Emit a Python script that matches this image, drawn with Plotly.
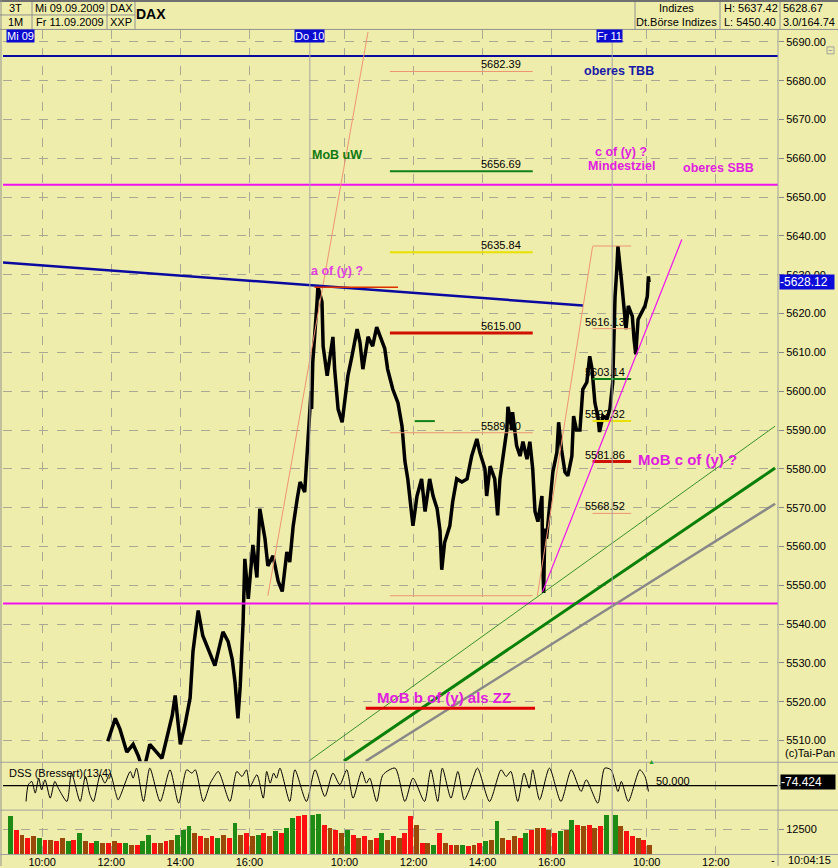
import plotly.graph_objects as go

# ---------------------------------------------------------------- data
# time stamps "DD HH:MM" (09 = Mi 09.09., 10 = Do 10.09., 11 = Fr 11.09.2009)
price_time = [
    "09 11:54", "09 12:07", "09 12:15", "09 12:27", "09 12:38", "09 12:47", "09 12:56", "09 13:07",
    "09 13:28", "09 13:37", "09 13:46", "09 13:51", "09 14:00", "09 14:08", "09 14:17", "09 14:22",
    "09 14:31", "09 14:39", "09 14:46", "09 15:00", "09 15:14", "09 15:23", "09 15:30", "09 15:35",
    "09 15:40", "09 15:44", "09 15:49", "09 15:52", "09 15:58", "09 16:06", "09 16:13", "09 16:18",
    "09 16:27", "09 16:32", "09 16:41", "09 16:50", "09 16:57", "09 17:05", "09 17:10", "09 17:16",
    "09 17:23", "09 17:28", "09 17:36",
    "10 09:02", "10 09:03", "10 09:05", "10 09:12", "10 09:14", "10 09:21", "10 09:23", "10 09:30",
    "10 09:35", "10 09:40", "10 09:43", "10 09:49", "10 09:56", "10 10:01", "10 10:06", "10 10:13",
    "10 10:22", "10 10:27", "10 10:32", "10 10:41", "10 10:49", "10 10:56", "10 11:02", "10 11:10",
    "10 11:15", "10 11:24", "10 11:33", "10 11:40", "10 11:45", "10 11:50", "10 11:57", "10 11:59",
    "10 12:06", "10 12:14", "10 12:20", "10 12:28", "10 12:34", "10 12:41", "10 12:46", "10 12:49",
    "10 12:54", "10 13:03", "10 13:08", "10 13:15", "10 13:24", "10 13:33", "10 13:41", "10 13:50",
    "10 13:55", "10 14:04", "10 14:07", "10 14:13", "10 14:21", "10 14:26", "10 14:30", "10 14:35",
    "10 14:42", "10 14:44", "10 14:51", "10 14:52", "10 14:59", "10 15:05", "10 15:10", "10 15:17",
    "10 15:22", "10 15:27", "10 15:31", "10 15:36", "10 15:43", "10 15:44", "10 15:46", "10 15:48",
    "10 15:51", "10 15:57", "10 16:02", "10 16:09", "10 16:12", "10 16:17", "10 16:23", "10 16:28",
    "10 16:35", "10 16:38", "10 16:43", "10 16:49", "10 16:54", "10 17:01", "10 17:06", "10 17:10",
    "10 17:15", "10 17:20", "10 17:23", "10 17:29", "10 17:36", "10 17:41",
    "11 09:01", "11 09:03", "11 09:05", "11 09:08", "11 09:10", "11 09:16", "11 09:19", "11 09:24",
    "11 09:28", "11 09:35", "11 09:38", "11 09:41", "11 09:45", "11 09:52", "11 09:57", "11 10:01",
    "11 10:03", "11 10:04",
]
price_value = [
    5509.8, 5515.7, 5513.0, 5507.0, 5509.0, 5506.0, 5502.0, 5509.0,
    5505.4, 5510.6, 5516.5, 5521.6, 5509.0, 5514.0, 5521.0, 5533.0,
    5543.5, 5537.0, 5534.5, 5529.3, 5538.0, 5535.5, 5531.0, 5525.0,
    5515.7, 5524.0, 5540.5, 5556.8, 5546.5, 5560.4, 5552.0, 5569.7,
    5562.0, 5555.0, 5557.6, 5551.0, 5548.4, 5558.6, 5556.0, 5565.3,
    5572.3, 5576.6, 5574.0,
    5600.0, 5595.4, 5607.5, 5622.0, 5627.0, 5623.0, 5611.6, 5604.0,
    5609.0, 5614.0, 5605.7, 5595.4, 5592.0, 5598.0, 5604.0, 5609.0,
    5616.0, 5612.6, 5605.7, 5614.0, 5611.6, 5616.5, 5614.0, 5611.0,
    5605.7, 5600.5, 5597.0, 5591.0, 5582.0, 5577.4, 5568.0, 5565.3,
    5573.0, 5577.4, 5569.0, 5577.4, 5573.0, 5569.7, 5564.0, 5554.0,
    5561.0, 5565.3, 5571.5, 5577.4, 5576.6, 5577.4, 5583.3, 5587.7,
    5584.3, 5580.0, 5573.0, 5580.7, 5577.4, 5568.0, 5577.4, 5583.3,
    5590.0, 5596.0, 5590.0, 5594.6, 5586.0, 5583.3, 5587.0, 5582.5,
    5587.0, 5580.0, 5569.0, 5566.4, 5573.0, 5558.6, 5548.0, 5564.6,
    5562.0, 5571.5, 5579.2, 5584.3, 5592.0, 5585.0, 5579.2, 5578.2,
    5583.3, 5593.6, 5590.0, 5590.0, 5600.5, 5602.3, 5609.0, 5605.7,
    5597.0, 5593.6, 5589.5, 5593.6, 5592.8, 5595.4,
    5602.3, 5613.4, 5624.4, 5631.4, 5637.4, 5628.8, 5624.4, 5616.0,
    5622.0, 5619.3, 5613.4, 5609.5, 5618.5, 5620.3, 5622.0, 5624.4,
    5629.6, 5628.1,
]

dss_time = [
    "09 09:32", "09 09:36", "09 09:42", "09 09:48", "09 09:54", "09 09:59", "09 10:05", "09 10:14",
    "09 10:22", "09 10:28", "09 10:43", "09 10:51", "09 11:06", "09 11:15", "09 11:23", "09 11:29",
    "09 11:41", "09 11:49", "09 11:58", "09 12:07", "09 12:12", "09 12:33", "09 12:38", "09 12:44",
    "09 12:56", "09 13:07", "09 13:25", "09 13:42", "09 13:57", "09 14:11", "09 14:20", "09 14:26",
    "09 14:40", "09 14:52", "09 14:57", "09 15:06", "09 15:26", "09 15:38", "09 15:47", "09 15:55",
    "09 16:01", "09 16:13", "09 16:24", "09 16:30", "09 16:36", "09 16:42", "09 16:47", "09 16:53",
    "09 17:10", "09 17:19", "09 17:39",
    "10 09:09", "10 09:26", "10 09:40", "10 09:52", "10 10:04", "10 10:15", "10 10:30", "10 10:38",
    "10 10:44", "10 10:56", "10 11:07", "10 11:28", "10 11:45", "10 11:59", "10 12:19", "10 12:30",
    "10 12:42", "10 12:50", "10 13:05", "10 13:17", "10 13:28", "10 13:37", "10 13:51", "10 14:12",
    "10 14:32", "10 14:41", "10 14:49", "10 15:01", "10 15:12", "10 15:21", "10 15:27", "10 15:39",
    "10 15:56", "10 16:16", "10 16:34", "10 16:51", "10 17:00", "10 17:20", "10 17:32", "10 17:43",
    "11 09:10", "11 09:16", "11 09:28", "11 09:48", "11 09:57", "11 10:03",
]
dss_value = [
    4.8, 52.4, 61.9, 28.6, 71.4, 38.1, 66.7, 14.3,
    61.9, 42.9, 4.8, 85.7, 4.8, 76.2, 23.8, 4.8,
    81.0, 57.1, 85.7, 33.3, 9.5, 90.5, 71.4, 100.0,
    4.8, 100.0, 4.8, 95.2, 0.0, 95.2, 85.7, 95.2,
    4.8, 57.1, 71.4, 90.5, 4.8, 90.5, 76.2, 95.2,
    47.6, 81.0, 14.3, 90.5, 57.1, 85.7, 71.4, 100.0,
    4.8, 95.2, 4.8,
    95.2, 19.0, 85.7, 52.4, 95.2, 14.3, 90.5, 57.1,
    71.4, 4.8, 81.0, 100.0, 4.8, 71.4, 4.8, 95.2,
    4.8, 100.0, 14.3, 90.5, 9.5, 38.1, 100.0, 4.8,
    95.2, 76.2, 90.5, 4.8, 85.7, 42.9, 95.2, 9.5,
    100.0, 4.8, 95.2, 33.3, 66.7, 0.0, 100.0, 95.2,
    33.3, 61.9, 4.8, 95.2, 76.2, 33.3,
]
DSS_MID = 50.0
DSS_LAST = 74.424

vol_time = [
    "09 09:00", "09 09:10", "09 09:20", "09 09:30", "09 09:40", "09 09:50", "09 10:00", "09 10:10",
    "09 10:20", "09 10:30", "09 10:40", "09 10:50", "09 11:00", "09 11:10", "09 11:20", "09 11:30",
    "09 11:40", "09 11:50", "09 12:00", "09 12:10", "09 12:20", "09 12:30", "09 12:40", "09 12:50",
    "09 13:00", "09 13:10", "09 13:20", "09 13:30", "09 13:40", "09 13:50", "09 14:00", "09 14:10",
    "09 14:20", "09 14:30", "09 14:40", "09 14:50", "09 15:00", "09 15:10", "09 15:20", "09 15:30",
    "09 15:40", "09 15:50", "09 16:00", "09 16:10", "09 16:20", "09 16:30", "09 16:40", "09 16:50",
    "09 17:00", "09 17:10", "09 17:20", "09 17:30",
    "10 09:00", "10 09:10", "10 09:20", "10 09:30", "10 09:40", "10 09:50", "10 10:00", "10 10:10",
    "10 10:20", "10 10:30", "10 10:40", "10 10:50", "10 11:00", "10 11:10", "10 11:20", "10 11:30",
    "10 11:40", "10 11:50", "10 12:00", "10 12:10", "10 12:20", "10 12:30", "10 12:40", "10 12:50",
    "10 13:00", "10 13:10", "10 13:20", "10 13:30", "10 13:40", "10 13:50", "10 14:00", "10 14:10",
    "10 14:20", "10 14:30", "10 14:40", "10 14:50", "10 15:00", "10 15:10", "10 15:20", "10 15:30",
    "10 15:40", "10 15:50", "10 16:00", "10 16:10", "10 16:20", "10 16:30", "10 16:40", "10 16:50",
    "10 17:00", "10 17:10", "10 17:20", "10 17:30",
    "11 09:00", "11 09:10", "11 09:20", "11 09:30", "11 09:40", "11 09:50", "11 10:00",
]
vol_value = [
    18800, 12200, 9700, 8000, 8800, 8000, 7200, 7200,
    6300, 8000, 6300, 7200, 10500, 6300, 5500, 6300,
    5500, 5500, 6300, 5500, 5500, 4700, 4700, 6300,
    9700, 5500, 5500, 6300, 7200, 9700, 12200, 13800,
    10500, 8800, 8000, 8800, 8000, 9700, 8000, 15500,
    9700, 10500, 8800, 9700, 10500, 8800, 11300, 10500,
    13000, 18000, 18800, 19300,
    19300, 20000, 14700, 13000, 12200, 10500, 12200, 9700,
    8000, 8800, 7200, 8000, 10500, 7200, 8800, 8000,
    10500, 18800, 14700, 5500, 5500, 4700, 10500, 5500,
    4700, 4300, 4700, 3800, 4700, 5500, 6300, 7200,
    16300, 8000, 7200, 8800, 8000, 10500, 12200, 13000,
    13000, 12200, 10500, 11300, 12200, 17200, 14700, 13800,
    14700, 13000, 13800, 19700,
    19300, 13800, 11300, 8800, 8000, 7200, 4700,
]
vol_color = [
    "g", "r", "b", "r", "b", "g", "r", "b",
    "r", "b", "g", "r", "g", "b", "r", "g",
    "b", "r", "b", "r", "g", "b", "r", "g",
    "g", "r", "b", "r", "b", "g", "g", "g",
    "b", "r", "b", "r", "g", "b", "r", "g",
    "b", "r", "b", "g", "r", "b", "g", "r",
    "g", "g", "r", "r",
    "g", "g", "r", "b", "r", "b", "g", "r",
    "b", "r", "b", "r", "g", "b", "r", "b",
    "r", "r", "b", "r", "b", "g", "r", "b",
    "r", "b", "g", "r", "b", "r", "g", "b",
    "g", "b", "r", "b", "r", "g", "r", "b",
    "r", "b", "r", "g", "b", "g", "r", "b",
    "r", "b", "r", "g",
    "g", "b", "r", "r", "b", "r", "b",
]

# horizontal analysis levels
level_price = [5682.39, 5656.69, 5635.84, 5615.00, 5589.30, 5547.30,
               5637.42, 5616.13, 5603.14, 5592.32, 5581.86, 5568.52]
level_start = ["10 11:19"] * 6 + ["10 17:11"] * 6
level_end = ["10 15:27"] * 6 + ["11 09:33"] * 6
level_kind = ["thin", "green", "yellow", "red", "thin", "thin",
              "thin", "thin", "green", "yellow", "red", "thin"]
level_label = [True, True, True, True, True, False,
               False, True, True, True, True, True]

# full-width bands
tbb_upper = 5686.4
sbb_upper = 5653.2
sbb_lower = 5545.3

# diagonal lines: (start time, start price, end time, end price)
blue_trend = ("09 08:52", 5633.2, "10 16:54", 5622.1)
salmon_left = ("09 16:32", 5547.3, "10 10:41", 5692.6)
salmon_right = ("10 15:35", 5547.3, "10 17:11", 5637.3)
magenta_trend = ("10 15:44", 5548.3, "11 11:01", 5639.1)
green_thin = ("09 17:43", 5504.7, "11 13:43", 5591.0)
green_thick = ("10 09:59", 5504.7, "11 13:43", 5580.2)
gray_line = ("10 10:37", 5504.7, "11 13:43", 5571.0)

a_of_y_line = ("10 09:08", "10 11:33", 5626.8)
small_green = ("10 12:02", "10 12:37", 5592.3)
mob_b_line = ("10 10:37", "10 15:31", 5518.3)

price_ticks = list(range(5510, 5691, 10))
time_tick_time = ["09 10:00", "09 12:00", "09 14:00", "09 16:00",
                  "10 10:00", "10 12:00", "10 14:00", "10 16:00",
                  "11 10:00", "11 12:00"]
day_start = ["10 09:00", "11 09:00"]
LAST_PRICE = 5628.12

# ---------------------------------------------------------------- helpers
DAY_INDEX = {"09": 0, "10": 1, "11": 2}
SESSION = 525  # 09:00 - 17:45


def sx(ts):
    d, hm = ts.split()
    h, m = hm.split(":")
    return DAY_INDEX[d] * SESSION + int(h) * 60 + int(m) - 540


W, H = 838, 868


def px(x):
    return x / W


def py(y):
    return 1 - y / H


BG = "#EFEDAB"
FONT = "Liberation Sans, Arial, sans-serif"
GRID = "#A9A993"
SALMON = "#EE9474"
MAG = "#F010F0"
NAVY = "#0A0AA0"

fig = go.Figure()

# price
fig.add_trace(go.Scatter(x=[sx(t) for t in price_time], y=price_value, mode="lines",
                         line=dict(color="black", width=3.5), yaxis="y"))


def seg(t0, p0, t1, p1, color, width, yaxis="y", dash=None):
    fig.add_trace(go.Scatter(x=[sx(t0), sx(t1)], y=[p0, p1], mode="lines",
                             line=dict(color=color, width=width, dash=dash), yaxis=yaxis))


X_MIN, X_MAX = -8, 1338

for lvl, col in [(tbb_upper, NAVY), (sbb_upper, MAG), (sbb_lower, MAG)]:
    fig.add_trace(go.Scatter(x=[X_MIN, X_MAX], y=[lvl, lvl], mode="lines",
                             line=dict(color=col, width=2), yaxis="y"))

kind_style = {"thin": (SALMON, 1), "green": ("#10801A", 2), "yellow": ("#E8E000", 2),
              "red": ("#D01000", 3)}
for p, t0, t1, k in zip(level_price, level_start, level_end, level_kind):
    c, w = kind_style[k]
    seg(t0, p, t1, p, c, w)

seg(*salmon_left, SALMON, 1)
seg(*salmon_right, SALMON, 1)
seg(*blue_trend, NAVY, 2.5)
seg(*magenta_trend, MAG, 1.2)
seg(*green_thin, "#0A7A0A", 0.8)
seg(*green_thick, "#0A800A", 3)
seg(*gray_line, "#888888", 2.5)
seg(a_of_y_line[0], a_of_y_line[2], a_of_y_line[1], a_of_y_line[2], "#E03000", 1.5)
seg(small_green[0], small_green[2], small_green[1], small_green[2], "#10801A", 2)
seg(mob_b_line[0], mob_b_line[2], mob_b_line[1], mob_b_line[2], "#E00000", 3)

# DSS
fig.add_trace(go.Scatter(x=[X_MIN, X_MAX], y=[DSS_MID, DSS_MID], mode="lines",
                         line=dict(color="black", width=1.2), yaxis="y2"))
fig.add_trace(go.Scatter(x=[sx(t) for t in dss_time], y=dss_value, mode="lines",
                         line=dict(color="black", width=1, shape="spline", smoothing=0.7),
                         yaxis="y2"))

# volume
cmap = {"g": "#1E8C14", "r": "#FF1010", "b": "#9A4A08"}
fig.add_trace(go.Bar(x=[sx(t) + 5 for t in vol_time], y=vol_value, width=8.5,
                     marker=dict(color=[cmap[c] for c in vol_color], line=dict(width=0)),
                     yaxis="y3"))

# ---------------------------------------------------------------- annotations
ann = []


def text(x, y, s, size=11, color="black", bold=False, xanchor="center", **kw):
    if bold:
        s = "<b>" + s + "</b>"
    d = dict(x=px(x), y=py(y), xref="paper", yref="paper", text=s, showarrow=False,
             xanchor=xanchor, yanchor="middle", font=dict(family=FONT, size=size, color=color))
    d.update(kw)
    ann.append(d)


# header
text(15, 8, "3T")
text(15, 22, "1M")
text(70, 8, "Mi 09.09.2009")
text(70, 22, "Fr 11.09.2009")
text(121, 8, "DAX")
text(121, 22, "XXP")
text(151, 14, "DAX", size=14, bold=True)
text(676, 8, "Indizes")
text(676, 22, "Dt.Börse Indizes")
text(722, 8, "H: 5637.42", xanchor="left")
text(722, 22, "L: 5450.40", xanchor="left")
text(781, 8, "5628.67", xanchor="left")
text(781, 22, "3.0/164.74", xanchor="left")

# day labels
for x, s in [(6, "Mi 09"), (294, "Do 10"), (596, "Fr 11")]:
    text(x, 36, s, size=11, color="white", xanchor="left", bgcolor="#0C0CD0", borderpad=0)

# chart notes
text(619, 71, "oberes TBB", size=12.5, color="#1A1AA8", bold=True)
text(337, 155, "MoB uW", size=12.5, color="#127A12", bold=True)
text(621, 152, "c of (y) ?", size=12.5, color="#E020E0", bold=True)
text(621, 166, "Mindestziel", size=12.5, color="#E020E0", bold=True)
text(718, 168, "oberes SBB", size=12.5, color="#E020E0", bold=True)
text(337, 272, "a of (y) ?", size=12.5, color="#E040E0", bold=True)
text(687, 461, "MoB c of (y) ?", size=15, color="#E020E0", bold=True)
text(444, 699, "MoB b of (y) als ZZ", size=15, color="#E020E0", bold=True)

# level labels
for p, t0, lab in zip(level_price, level_start, level_label):
    if not lab:
        continue
    left_group = t0.startswith("10 11")
    ann.append(dict(x=sx("10 15:10") if left_group else sx("10 16:54"), y=p, xref="x", yref="y",
                    text=f"{p:.2f}", showarrow=False,
                    xanchor="right" if left_group else "left", yanchor="bottom", yshift=-1,
                    font=dict(family=FONT, size=11, color="black")))

# right side boxes
ann.append(dict(x=px(779), y=LAST_PRICE, xref="paper", yref="y", text="-" + f"{LAST_PRICE:.2f}",
                showarrow=False, xanchor="left", yanchor="middle", bgcolor="#0C0CD8",
                width=54, align="left", borderpad=0,
                font=dict(family=FONT, size=12, color="white")))
ann.append(dict(x=px(780), y=py(784), xref="paper", yref="paper", text="-" + f"{DSS_LAST:.3f}",
                showarrow=False, xanchor="left", yanchor="middle", bgcolor="black",
                width=54, align="left", borderpad=0,
                font=dict(family=FONT, size=12, color="white")))
text(783, 755, "(c)Tai-Pan", xanchor="left")
text(7, 775, "DSS (Bressert)(13/4)", xanchor="left")
text(654, 783, "50.000", xanchor="left")
text(651, 763, "▲", size=7, color="#2AA02A")
text(773, 862, "-")
text(786, 862, "10:04:15", xanchor="left")

# ---------------------------------------------------------------- shapes
shapes = []


def pline(x0, y0, x1, y1, color="#909090", width=1):
    shapes.append(dict(type="line", xref="paper", yref="paper", x0=px(x0), y0=py(y0),
                       x1=px(x1), y1=py(y1), line=dict(color=color, width=width)))


pline(0, 1, 838, 1, "#707070", 2)
pline(0, 29.5, 838, 29.5)
pline(0, 15, 135, 15)
for xv in [32, 107, 135, 635, 720, 780]:
    pline(xv, 2, xv, 29)
pline(1, 0, 1, 868, "#909090")
pline(778, 30, 778, 868, "#A0A0A0")
pline(0, 764, 838, 764, "#A0A0A0")
pline(0, 812, 838, 812, "#A0A0A0")
pline(0, 856.5, 838, 856.5, "#A0A0A0")
shapes.append(dict(type="rect", xref="paper", yref="paper", x0=px(827), y0=py(54), x1=px(834),
                   y1=py(47), line=dict(color="#A0A0A0", width=1)))
pline(828.5, 50.5, 832.5, 50.5, "#A0A0A0")
for t in day_start:
    shapes.append(dict(type="line", xref="x", yref="paper", x0=sx(t), x1=sx(t),
                       y0=py(856), y1=py(41), line=dict(color="#A4A4A4", width=1)))

# ---------------------------------------------------------------- layout
axis_font = dict(family=FONT, size=11, color="black")
fig.update_layout(
    width=W, height=H, margin=dict(l=0, r=0, t=0, b=0),
    paper_bgcolor=BG, plot_bgcolor=BG, showlegend=False, bargap=0,
    annotations=ann, shapes=shapes,
    xaxis=dict(domain=[px(3), px(778)], range=[X_MIN, X_MAX], anchor="y3",
               tickvals=[sx(t) for t in time_tick_time],
               ticktext=[t.split()[1] for t in time_tick_time],
               showgrid=True, gridcolor=GRID, griddash="dash", gridwidth=1,
               zeroline=False, showline=False, ticks="", tickfont=axis_font),
    yaxis=dict(domain=[py(763), py(30)], range=[5504.65, 5693.1], anchor="x", side="right",
               tickvals=price_ticks, ticktext=[f"{v:.2f}" for v in price_ticks],
               showgrid=True, gridcolor=GRID, griddash="dash", gridwidth=1,
               zeroline=False, showline=False, ticks="outside", ticklen=5, tickcolor="#888888",
               tickfont=axis_font),
    yaxis2=dict(domain=[py(812), py(765)], range=[-20, 114], anchor="x", side="right",
                tickvals=[50], ticktext=["50.00"], showgrid=False, zeroline=False,
                ticks="outside", ticklen=5, tickcolor="#888888", tickfont=axis_font),
    yaxis3=dict(domain=[py(856), py(812)], range=[0, 22000], anchor="x", side="right",
                tickvals=[12500], ticktext=["12500"], showgrid=True, gridcolor=GRID,
                griddash="dash", zeroline=False, ticks="outside", ticklen=5,
                tickcolor="#888888", tickfont=axis_font),
)

fig.write_html("out.html", config={"displayModeBar": False},
               post_script="document.body.style.margin='0';document.body.style.overflow='hidden';")
